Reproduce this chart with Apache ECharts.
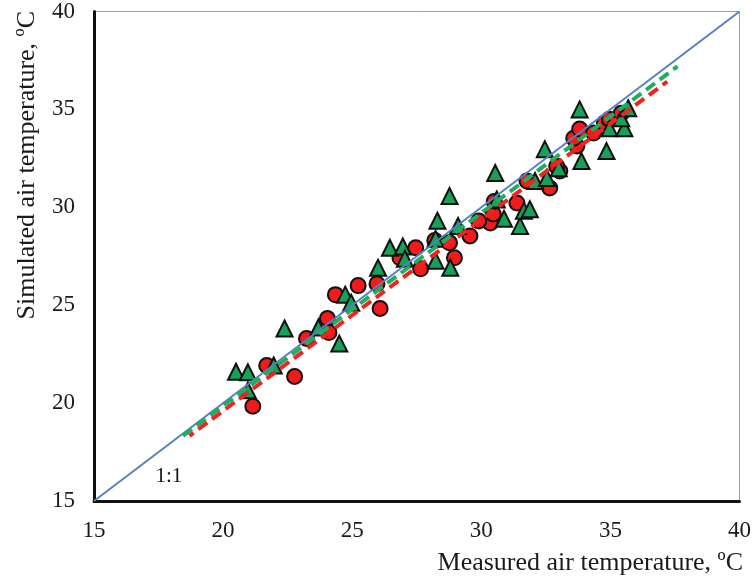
<!DOCTYPE html>
<html>
<head>
<meta charset="utf-8">
<script src="https://cdn.jsdelivr.net/npm/echarts@6/dist/echarts.min.js"></script>
<style>html,body{margin:0;padding:0;background:#fff;}#c{width:754px;height:578px;}</style>
</head>
<body>
<div id="c"></div>
<script>
// Axis ticks
const axisTicks = [15, 20, 25, 30, 35, 40];
// Red circles (measured, simulated)
const redMeasured = [21.15,22.77,21.69,23.23,24.04,24.10,24.35,25.23,26.08,25.96,26.85,27.46,27.65,28.77,28.96,29.56,30.35,30.46,29.90,31.38,31.77,32.65,33.04,32.92,33.70,33.58,33.81,34.35,34.77,34.96,35.42,30.50,28.20];
const redSimulated = [19.84,21.36,21.92,23.30,24.32,23.60,25.54,26.00,24.83,26.10,27.42,27.93,26.86,28.19,27.42,28.54,29.20,29.66,29.30,30.22,31.34,30.99,31.85,32.10,33.13,33.53,34.00,33.79,34.30,34.50,34.80,30.30,28.30];
// Green triangles (measured, simulated)
const greenMeasured = [20.50,20.96,20.96,21.96,22.38,23.69,24.50,24.73,24.96,26.00,26.46,26.96,27.04,28.23,28.80,28.23,28.30,28.77,29.10,30.54,30.88,31.50,31.65,31.88,32.08,32.54,33.00,32.46,33.88,33.81,34.85,34.96,35.54,35.42,35.69,30.60];
const greenSimulated = [21.60,21.57,20.65,21.92,23.81,23.86,23.04,25.54,25.13,26.91,27.93,28.00,27.37,27.27,26.91,28.39,29.31,30.58,29.05,31.75,29.41,29.05,29.82,29.90,31.34,31.50,32.00,32.97,32.36,35.00,32.87,34.04,34.04,34.55,35.06,30.40];
// 1:1 line
const oneToOneX = [15, 40];
const oneToOneY = [15, 40];
// Regression lines (end points)
const redFitX = [18.7, 37.2];
const redFitY = [18.33, 36.42];
const greenFitX = [18.45, 37.6];
const greenFitY = [18.33, 37.2];
// Annotation
const labelPos = [17.9, 16.25];
const labelText = '1:1';

const zip = (a, b) => a.map((v, i) => [v, b[i]]);
const serif = '"Liberation Serif", "Times New Roman", serif';

const chart = echarts.init(document.getElementById('c'), null, {renderer: 'canvas'});
chart.setOption({
  animation: false,
  backgroundColor: '#fff',
  grid: {left: 94, right: 9, top: 9, bottom: 77, show: true, borderColor: '#a0a0a0', borderWidth: 1, backgroundColor: 'transparent'},
  xAxis: {
    type: 'value', min: axisTicks[0], max: axisTicks[axisTicks.length - 1], interval: 5,
    axisLine: {onZero: false, lineStyle: {color: '#111', width: 3}},
    axisTick: {show: false}, splitLine: {show: false},
    axisLabel: {fontFamily: serif, fontSize: 23, color: '#1a1a1a', margin: 18}
  },
  yAxis: {
    type: 'value', min: axisTicks[0], max: axisTicks[axisTicks.length - 1], interval: 5,
    axisLine: {onZero: false, lineStyle: {color: '#111', width: 3}},
    axisTick: {show: false}, splitLine: {show: false},
    axisLabel: {fontFamily: serif, fontSize: 23, color: '#1a1a1a', margin: 19}
  },
  graphic: [
    {type: 'text', x: 743, y: 563, z: 10,
     style: {text: 'Measured air temperature, \u00BAC', font: '26px ' + serif, fill: '#1a1a1a', align: 'right', verticalAlign: 'middle'}},
    {type: 'text', x: 27, y: 11, rotation: Math.PI / 2, z: 10,
     style: {text: 'Simulated air temperature, \u00BAC', font: '26px ' + serif, fill: '#1a1a1a', align: 'right', verticalAlign: 'middle'}}
  ],
  series: [
    {type: 'scatter', name: 'red', data: zip(redMeasured, redSimulated), symbol: 'circle', symbolSize: 15, z: 2,
     itemStyle: {color: '#F21A1A', borderColor: '#111', borderWidth: 2, opacity: 1}},
    {type: 'scatter', name: 'green', data: zip(greenMeasured, greenSimulated), symbol: 'triangle', symbolSize: 16, z: 3,
     itemStyle: {color: '#16A058', borderColor: '#111', borderWidth: 2, opacity: 1}},
    {type: 'line', name: '1:1', data: zip(oneToOneX, oneToOneY), symbol: 'none', z: 4,
     lineStyle: {color: '#5581C2', width: 2}},
    {type: 'line', name: 'greenFit', data: zip(greenFitX, greenFitY), symbol: 'none', z: 5,
     lineStyle: {color: '#1DAE5E', width: 4, type: [11, 6]}},
    {type: 'line', name: 'redFit', data: zip(redFitX, redFitY), symbol: 'none', z: 6,
     lineStyle: {color: '#F32222', width: 4, type: [11, 6], dashOffset: 6}},
    {type: 'scatter', name: 'label', data: [labelPos], symbolSize: 0, z: 7, silent: true,
     itemStyle: {opacity: 1},
     label: {show: true, position: 'inside', formatter: labelText, fontFamily: serif, fontSize: 21, color: '#111'}}
  ]
});
</script>
</body>
</html>
